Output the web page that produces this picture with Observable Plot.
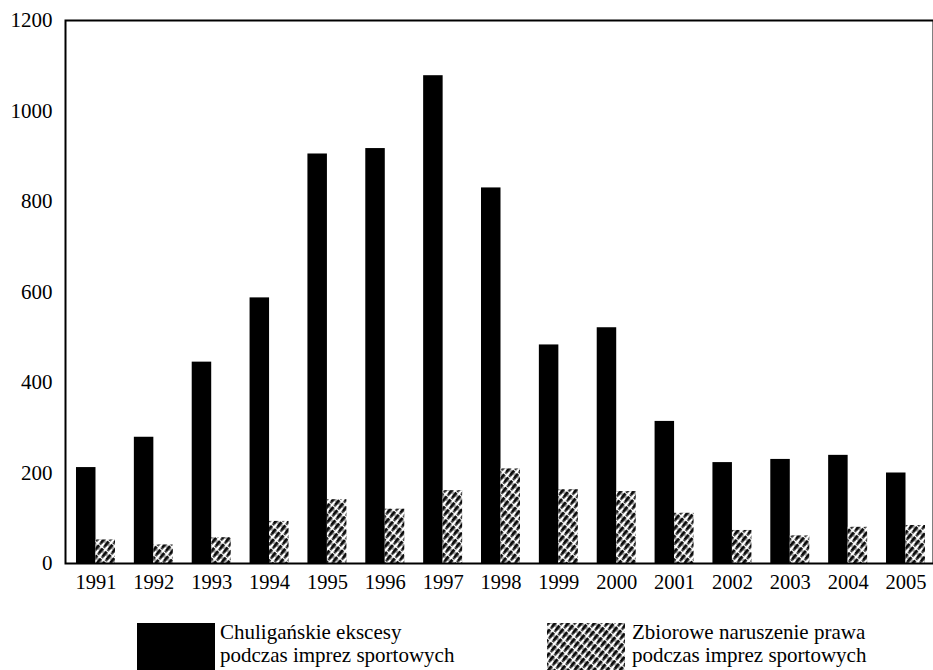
<!DOCTYPE html>
<html>
<head>
<meta charset="utf-8">
<script src="https://cdn.jsdelivr.net/npm/d3@7"></script>
<script src="https://cdn.jsdelivr.net/npm/@observablehq/plot@0.6"></script>
<style>
  html, body { margin: 0; padding: 0; background: white; overflow: hidden; }
  #wrap { width: 933px; height: 670px; position: relative; font-family: "Liberation Serif", "DejaVu Serif", serif; color: black; }
  #legend { position: absolute; left: 0; top: 600px; width: 933px; height: 70px; }
  .sw { position: absolute; width: 78px; height: 50px; }
  .lt { position: absolute; font-size: 21px; line-height: 23px; white-space: nowrap; }
</style>
</head>
<body>
<div id="wrap">
  <div id="chart"></div>
  <div id="legend"></div>
</div>
<script>
const years = [1991, 1992, 1993, 1994, 1995, 1996, 1997, 1998, 1999, 2000, 2001, 2002, 2003, 2004, 2005];
const chuliganskie = [212, 279, 445, 587, 905, 917, 1078, 830, 483, 521, 314, 223, 230, 239, 200];
const zbiorowe = [52, 41, 57, 93, 141, 120, 161, 209, 163, 159, 111, 73, 61, 80, 84];
const yTicks = [0, 200, 400, 600, 800, 1000, 1200];
const seriesLabels = [
  ["Chuligańskie ekscesy", "podczas imprez sportowych"],
  ["Zbiorowe naruszenie prawa", "podczas imprez sportowych"]
];

const rows = years.map((year, i) => ({year, chuliganskie: chuliganskie[i], zbiorowe: zbiorowe[i]}));

const chart = Plot.plot({
  width: 933,
  height: 600,
  marginLeft: 65,
  marginRight: 0,
  marginTop: 20,
  marginBottom: 37,
  style: {fontFamily: "Liberation Serif", fontSize: "20px", color: "black", background: "white"},
  x: {type: "band", domain: years, range: [65, 936], paddingInner: 0.326, paddingOuter: 0.19, round: false, label: null},
  y: {domain: [0, 1200], label: null},
  marks: [
    Plot.barY(rows, {x: "year", y: "chuliganskie", fill: "black", insetRight: 19.5}),
    Plot.barY(rows, {x: "year", y: "zbiorowe", fill: "url(#hatch)", insetLeft: 19.5}),
    Plot.frame({stroke: "black", strokeWidth: 2}),
    Plot.axisY({ticks: yTicks, tickSize: 0, tickPadding: 13, fontSize: 21, label: null, tickFormat: d => String(d)}),
    Plot.axisX({tickSize: 0, tickPadding: 11, fontSize: 20.5, label: null, tickFormat: d => String(d)})
  ]
});

// hatch pattern: dense broken "/" strokes
const defs = d3.select(chart).insert("defs", ":first-child");
const pat = defs.append("pattern")
  .attr("id", "hatch")
  .attr("patternUnits", "userSpaceOnUse")
  .attr("width", 9).attr("height", 5)
  .attr("patternTransform", "rotate(-50)");
pat.append("rect").attr("width", 9).attr("height", 5).attr("fill", "white");
pat.append("rect").attr("x", 0).attr("y", 0).attr("width", 6).attr("height", 2.8).attr("fill", "#0a0a0a");
pat.append("rect").attr("x", 7).attr("y", 0.4).attr("width", 2).attr("height", 2.2).attr("fill", "#222");
pat.append("rect").attr("x", 2).attr("y", 3.6).attr("width", 3).attr("height", 0.9).attr("fill", "#444");

document.getElementById("chart").appendChild(chart);

// legend
const legend = d3.select("#legend");
const items = [
  {swLeft: 137, txtLeft: 220, fill: "black"},
  {swLeft: 547, txtLeft: 632, fill: "url(#hatch)"}
];
items.forEach((it, i) => {
  const sw = legend.append("svg").attr("class", "sw")
    .style("left", it.swLeft + "px").style("top", "23px")
    .attr("width", 78).attr("height", 50);
  sw.append("rect").attr("width", 78).attr("height", 50).attr("fill", it.fill);
  legend.append("div").attr("class", "lt")
    .style("left", it.txtLeft + "px").style("top", "21px")
    .html(seriesLabels[i].join("<br>"));
});
</script>
</body>
</html>
